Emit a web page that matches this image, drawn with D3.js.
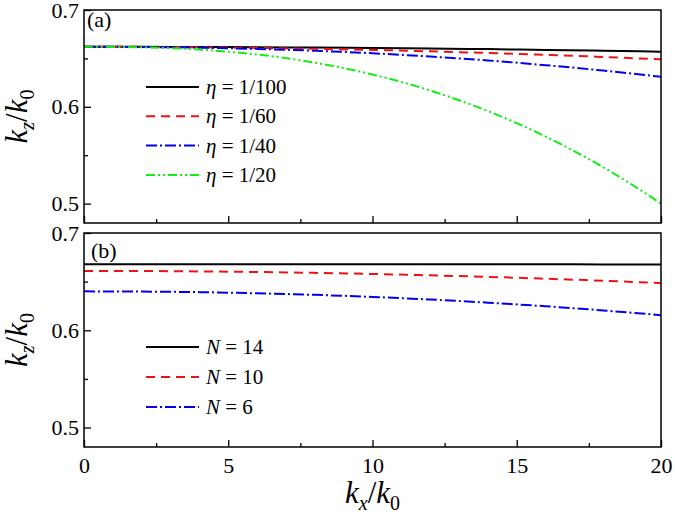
<!DOCTYPE html>
<html><head><meta charset="utf-8">
<script src="https://cdn.jsdelivr.net/npm/d3@7"></script>
</head>
<body style="margin:0;background:#fff">
<svg id="chart" width="675" height="516" font-family="Times New Roman" style="display:block"></svg>
<script>
// ---- data ----
const kx = [0,2,4,6,8,10,12,14,16,18,20];
const kxFine = [0,1,2,3,4,5,6,7,8,9,10,11,12,13,14,15,16,17,18,19,20];
// panel (a)
const eta100 = [0.662,0.6620,0.6618,0.6616,0.6612,0.6608,0.6602,0.6596,0.6588,0.6580,0.657];
const eta60  = [0.662,0.6619,0.6615,0.6608,0.6599,0.6588,0.6573,0.6556,0.6537,0.6515,0.649];
const eta40  = [0.662,0.6618,0.6611,0.6598,0.6579,0.6553,0.6519,0.6479,0.6430,0.6374,0.631];
const eta20  = [0.662,0.6619,0.6615,0.6606,0.6591,0.6569,0.6540,0.6503,0.6456,0.6400,0.6334,
                0.6257,0.6168,0.6068,0.5956,0.5831,0.5693,0.5541,0.5375,0.5195,0.500];
// panel (b)
const n14 = [0.668,0.668,0.668,0.6679,0.6679,0.6679,0.6678,0.6678,0.6678,0.6677,0.6677];
const n10 = [0.661,0.6609,0.6605,0.6599,0.6590,0.6579,0.6565,0.6549,0.6530,0.6509,0.6485];
const n6  = [0.640,0.6398,0.6392,0.6380,0.6364,0.6343,0.6316,0.6284,0.6247,0.6204,0.6155];

const legendA = ["1/100","1/60","1/40","1/20"];
const legendB = ["14","10","6"];
const xTicks = [0,5,10,15,20];
const xMinor = [2.5,7.5,12.5,17.5];
const yTicks = [0.5,0.6,0.7];
const yMinor = [0.55,0.65];

// ---- styles ----
const FONT = "Times New Roman";
const styles = [
  {color:"#000000", dash:null},
  {color:"#ee1111", dash:"9,6"},
  {color:"#0000ee", dash:"11,3,2,3"},
  {color:"#11ee11", dash:"9,3,2,3,2,3"}
];

const svg = d3.select("#chart");
const L = 84, R = 661;
const x = d3.scaleLinear().domain([0,20]).range([L,R]);
const panels = [
  {top:10, bottom:223, label:"(a)", lx:87, ly:27,
   series:[{xs:kx,ys:eta100},{xs:kx,ys:eta60},{xs:kx,ys:eta40},{xs:kxFine,ys:eta20}],
   legend:legendA, sym:"η", legTop:87, legStep:29.3},
  {top:233, bottom:447, label:"(b)", lx:91, ly:258,
   series:[{xs:kx,ys:n14},{xs:kx,ys:n10},{xs:kx,ys:n6}],
   legend:legendB, sym:"N", legTop:347, legStep:30}
];

panels.forEach((p, pi) => {
  const y = d3.scaleLinear().domain([0.48,0.70]).range([p.bottom,p.top]);
  const g = svg.append("g");

  const cid = "clip"+pi;
  svg.append("clipPath").attr("id",cid).append("rect")
    .attr("x",L).attr("y",p.top).attr("width",R-L).attr("height",p.bottom-p.top);

  const line = d3.line().x(d=>x(d[0])).y(d=>y(d[1])).curve(d3.curveMonotoneX);
  p.series.forEach((s,i) => {
    const pts = s.xs.map((v,j)=>[v,s.ys[j]]);
    g.append("path").datum(pts).attr("d",line)
      .attr("fill","none").attr("stroke",styles[i].color)
      .attr("stroke-width",2)
      .attr("stroke-dasharray",styles[i].dash)
      .attr("clip-path",`url(#${cid})`);
  });

  const axes = [
    d3.axisLeft(y).tickValues(yTicks).tickSize(-7).tickPadding(5).tickFormat(d3.format(".1f")),
    d3.axisLeft(y).tickValues(yMinor).tickSize(-4).tickFormat(""),
    d3.axisBottom(x).tickValues(xTicks).tickSize(-7).tickPadding(10).tickFormat(pi===1 ? d3.format("d") : ""),
    d3.axisBottom(x).tickValues(xMinor).tickSize(-4).tickFormat("")
  ];
  axes.forEach((ax,k) => {
    const ag = g.append("g").attr("transform", k<2 ? `translate(${L},0)` : `translate(0,${p.bottom})`).call(ax);
    ag.attr("font-family",FONT).attr("font-size",22);
  });
  g.selectAll(".domain").remove();
  g.selectAll(".tick line").attr("stroke","#000").attr("stroke-width",1.3);
  g.selectAll(".tick text").attr("fill","#000");

  g.append("rect").attr("x",L).attr("y",p.top).attr("width",R-L).attr("height",p.bottom-p.top)
    .attr("fill","none").attr("stroke","#000").attr("stroke-width",1.5);

  g.append("text").attr("x",p.lx).attr("y",p.ly).attr("font-family",FONT).attr("font-size",22).text(p.label);

  p.legend.forEach((lab,i) => {
    const ly = p.legTop + i*p.legStep;
    g.append("line").attr("x1",146).attr("x2",199).attr("y1",ly).attr("y2",ly)
      .attr("stroke",styles[i].color).attr("stroke-width",2)
      .attr("stroke-dasharray",styles[i].dash);
    const t = g.append("text").attr("x",206).attr("y",ly+7).attr("font-family",FONT).attr("font-size",21);
    t.append("tspan").attr("font-style","italic").text(p.sym);
    t.append("tspan").text(" = " + lab);
  });

  const cy = (p.top+p.bottom)/2;
  const yl = g.append("text").attr("transform",`translate(27,${cy}) rotate(-90)`)
    .attr("text-anchor","middle").attr("font-family",FONT).attr("font-size",31);
  yl.append("tspan").attr("font-style","italic").text("k");
  yl.append("tspan").attr("font-style","italic").attr("font-size",20).attr("dy",7).text("z");
  yl.append("tspan").attr("dy",-7).text("/");
  yl.append("tspan").attr("font-style","italic").text("k");
  yl.append("tspan").attr("font-size",20).attr("dy",7).text("0");
});

const xl = svg.append("text").attr("x",(L+R)/2).attr("y",503)
  .attr("text-anchor","middle").attr("font-family",FONT).attr("font-size",31);
xl.append("tspan").attr("font-style","italic").text("k");
xl.append("tspan").attr("font-style","italic").attr("font-size",20).attr("dy",7).text("x");
xl.append("tspan").attr("dy",-7).text("/");
xl.append("tspan").attr("font-style","italic").text("k");
xl.append("tspan").attr("font-size",20).attr("dy",7).text("0");
</script>
</body></html>
